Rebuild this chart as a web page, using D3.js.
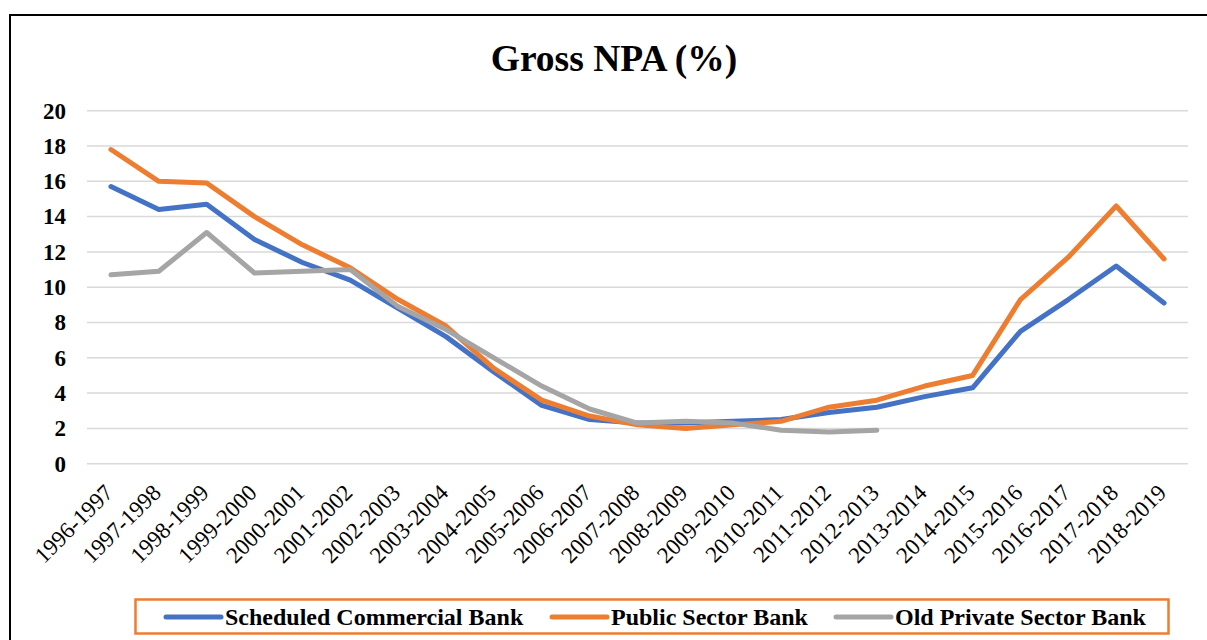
<!DOCTYPE html>
<html>
<head>
<meta charset="utf-8">
<script src="https://cdn.jsdelivr.net/npm/d3@7"></script>
<style>
  html, body { margin: 0; padding: 0; background: #fff; }
  svg { display: block; }
  text { font-family: "Liberation Serif", "Times New Roman", serif; fill: #000; }
</style>
</head>
<body>
<svg id="chart" width="1207" height="640"></svg>
<script>
// Financial years
const years = [
  "1996-1997","1997-1998","1998-1999","1999-2000","2000-2001","2001-2002",
  "2002-2003","2003-2004","2004-2005","2005-2006","2006-2007","2007-2008",
  "2008-2009","2009-2010","2010-2011","2011-2012","2012-2013","2013-2014",
  "2014-2015","2015-2016","2016-2017","2017-2018","2018-2019"
];

// Gross NPA (%) by bank group
const scheduledCommercial = [15.7,14.4,14.7,12.7,11.4,10.4,8.8,7.2,5.2,3.3,2.5,2.3,2.3,2.4,2.5,2.9,3.2,3.8,4.3,7.5,9.3,11.2,9.1];
const publicSector        = [17.8,16.0,15.9,14.0,12.4,11.1,9.3,7.8,5.4,3.6,2.7,2.2,2.0,2.2,2.4,3.2,3.6,4.4,5.0,9.3,11.7,14.6,11.6];
const oldPrivateSector    = [10.7,10.9,13.1,10.8,10.9,11.0,8.9,7.6,6.0,4.4,3.1,2.3,2.4,2.3,1.9,1.8,1.9,null,null,null,null,null,null];

const yTicks = [0,2,4,6,8,10,12,14,16,18,20];

const seriesNames  = ["Scheduled Commercial Bank","Public Sector Bank","Old Private Sector Bank"];
const seriesColors = ["#4472C4","#ED7D31","#A5A5A5"];
const seriesValues = [scheduledCommercial, publicSector, oldPrivateSector];

const FONT = "Liberation Serif, Times New Roman, serif";
const svg = d3.select("#chart");

// outer frame (open on right and bottom edges of the page)
svg.append("path")
  .attr("d", "M10,700 L10,15 L1220,15")
  .attr("fill", "none")
  .attr("stroke", "#000")
  .attr("stroke-width", 2);

// title
svg.append("text")
  .attr("x", 614)
  .attr("y", 71)
  .attr("text-anchor", "middle")
  .attr("font-size", 37.5)
  .attr("font-weight", "bold")
  .text("Gross NPA (%)");

const x = d3.scalePoint().domain(years).range([87, 1188]).padding(0.5);
const y = d3.scaleLinear().domain([0, 20]).range([463.7, 110.7]);

// horizontal gridlines
svg.append("g")
  .selectAll("line")
  .data(yTicks)
  .join("line")
  .attr("x1", 87).attr("x2", 1188)
  .attr("y1", d => y(d)).attr("y2", d => y(d))
  .attr("stroke", "#D9D9D9")
  .attr("stroke-width", 1.5);

// y axis labels
const yAxis = svg.append("g")
  .attr("transform", "translate(66,0)")
  .call(d3.axisLeft(y).tickValues(yTicks).tickSize(0).tickPadding(0).tickFormat(d3.format("d")));
yAxis.select(".domain").remove();
yAxis.selectAll("text")
  .attr("font-size", 23)
  .attr("font-weight", "bold")
  .attr("font-family", FONT)
  .attr("fill", "#000");

// x axis labels, rotated
const xAxis = svg.append("g")
  .attr("transform", "translate(0,494)")
  .call(d3.axisBottom(x).tickSize(0).tickPadding(0));
xAxis.select(".domain").remove();
xAxis.selectAll("text")
  .attr("font-size", 23)
  .attr("font-family", FONT)
  .attr("fill", "#000")
  .attr("text-anchor", "end")
  .attr("dy", 0)
  .attr("y", 0)
  .attr("transform", "translate(3,0) rotate(-45)");

// series lines
const line = d3.line()
  .defined(d => d.v != null)
  .x(d => x(d.year))
  .y(d => y(d.v));

seriesValues.forEach((vals, i) => {
  svg.append("path")
    .datum(years.map((yr, j) => ({ year: yr, v: vals[j] })))
    .attr("fill", "none")
    .attr("stroke", seriesColors[i])
    .attr("stroke-width", 5)
    .attr("stroke-linecap", "round")
    .attr("stroke-linejoin", "round")
    .attr("d", line);
});

// legend
svg.append("rect")
  .attr("x", 135.5).attr("y", 599.5)
  .attr("width", 1033).attr("height", 34)
  .attr("fill", "#fff")
  .attr("stroke", "#ED7D31")
  .attr("stroke-width", 2.5);

const legendX = [166, 552, 836];
const legend = svg.append("g")
  .selectAll("g")
  .data(seriesNames)
  .join("g")
  .attr("transform", (d, i) => `translate(${legendX[i]},617)`);
legend.append("line")
  .attr("x1", 0).attr("x2", 55)
  .attr("stroke", (d, i) => seriesColors[i])
  .attr("stroke-width", 5)
  .attr("stroke-linecap", "round");
legend.append("text")
  .attr("x", 59)
  .attr("y", 8)
  .attr("font-size", 24)
  .attr("font-weight", "bold")
  .text(d => d);
</script>
</body>
</html>
